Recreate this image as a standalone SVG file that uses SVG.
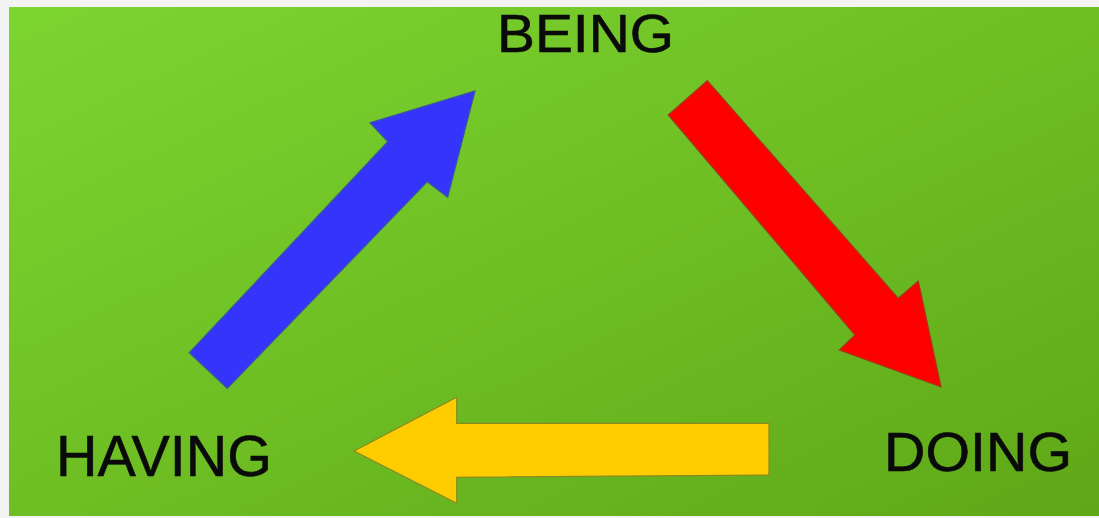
<svg xmlns="http://www.w3.org/2000/svg" width="1099" height="518" viewBox="0 0 1099 518">
<defs>
<linearGradient id="bg" x1="0" y1="0" x2="1" y2="1">
<stop offset="0" stop-color="#7dd530"/>
<stop offset="1" stop-color="#5fa818"/>
</linearGradient>
</defs>
<style>
.lbl{font-family:"Liberation Sans",Arial,sans-serif;fill:#0a0a0a;stroke:#0a0a0a;stroke-width:0.6;}
.arr{stroke-width:1.2;stroke-linejoin:miter;}
</style>
<rect x="0" y="0" width="1099" height="518" fill="#f2f3f2"/>
<rect x="9" y="7" width="1090" height="509" fill="url(#bg)"/>
<g id="being"><text class="lbl" x="497" y="52" font-size="54" textLength="177" lengthAdjust="spacingAndGlyphs">BEING</text></g>
<g id="having"><text class="lbl" x="56" y="476" font-size="58" textLength="216" lengthAdjust="spacingAndGlyphs">HAVING</text></g>
<g id="doing"><text class="lbl" x="884" y="471" font-size="55" textLength="188" lengthAdjust="spacingAndGlyphs">DOING</text></g>
<g id="connectors">
<polygon class="arr" fill="#3434fb" stroke="#3a5a9a" points="189.3,352.7 387.7,141.7 370,122.7 475,91 447.7,197.3 427.3,181.7 227.3,388.3"/>
<polygon class="arr" fill="#ff0000" stroke="#a03a1a" points="668.3,115 707.3,80.7 898.3,298.3 918.3,281 941,386.7 839.3,350 855,335"/>
<polygon class="arr" fill="#ffcc00" stroke="#8a8a20" points="354,451 456.7,397.3 456.7,423.3 769,423.3 769,475 456.7,477.3 456.7,503.3"/>
</g>
</svg>
